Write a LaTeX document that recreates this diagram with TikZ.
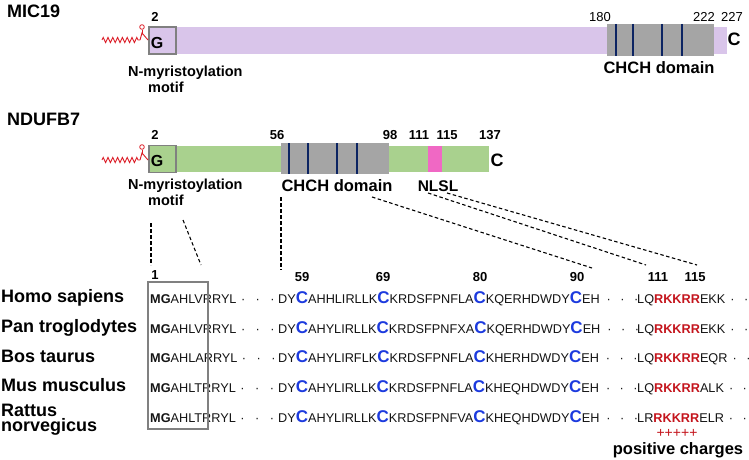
\documentclass[tikz,border=0pt]{standalone}
\usepackage{fontspec}
\setmainfont{Liberation Sans}
\usetikzlibrary{
  positioning,               % Function "of" (e.g. [below=of x])
  decorations.pathmorphing,  % Zigzag of the myristoyl chain
}
\definecolor{micpurple}{RGB}{217,197,234}
\definecolor{ndugreen}{RGB}{169,209,142}
\definecolor{chchgray}{RGB}{165,165,165}
\definecolor{cysnavy}{RGB}{12,36,98}
\definecolor{nlspink}{RGB}{240,104,196}
\definecolor{cysblue}{RGB}{28,58,222}
\definecolor{posred}{RGB}{196,20,28}
\definecolor{acylred}{RGB}{220,30,40}
\definecolor{seqtext}{RGB}{20,20,20}
\newcommand{\fs}[1]{\fontsize{#1}{#1}\selectfont}
\newcommand{\cys}{{\fs{17}\bfseries\color{cysblue}C}}
\newcommand{\pos}[1]{{\bfseries\color{posred}#1}}
\newcommand{\gapA}{\hspace{4.5pt}·\hspace{10.5pt}·\hspace{10.5pt}·}
\newcommand{\gapB}{\hspace{7pt}·\hspace{9.5pt}·\hspace{9.5pt}·}
\newcommand{\gapC}{\hspace{5pt}·\hspace{9.5pt}·}
\tikzset{
  x=1pt, y=-1pt,
  semithick,
  title/.style={font=\fs{18}\bfseries, anchor=west, inner sep=0pt},
  num/.style={font=\fs{13}\bfseries, inner sep=0pt},
  thinnum/.style={font=\fs{13}, inner sep=0pt},
  lbl/.style={font=\fs{16.5}\bfseries, inner sep=0pt},
  motif/.style={
    font=\fontsize{14.5}{16}\selectfont\bfseries,
    align=left,
    anchor=north west,
    inner sep=0pt
  },
  gly/.style={font=\fs{16}\bfseries, inner sep=0pt},
  endc/.style={font=\fs{18}\bfseries, inner sep=0pt},
  gbox/.style={
    draw=gray,
    line width=1.5pt,
    minimum width=27pt,
    minimum height=27pt,
    inner sep=0pt
  },
  chch/.style={fill=chchgray},
  cysline/.style={draw=cysnavy, line width=2.2pt},
  acyl/.style={draw=acylred, line width=0.9pt},
  chain/.style={
    acyl,
    decorate,
    decoration={zigzag, segment length=4.8pt, amplitude=2.6pt}
  },
  oxy/.style={
    circle,
    draw=acylred,
    line width=0.8pt,
    minimum size=4.6pt,
    inner sep=0pt
  },
  zoomline/.style={dash pattern=on 3.5pt off 2.5pt, line width=1.1pt},
  species/.style={font=\fs{18}\bfseries, anchor=base west, inner sep=0pt},
  seq/.style={font=\fs{12.7}, text=seqtext, anchor=base west, inner sep=0pt},
  alnbox/.style={draw=gray, line width=2.4pt}
}

\begin{document}
\begin{tikzpicture}
\useasboundingbox (0,0) rectangle (749,460);
% MIC19
\node[title] (mic) at (7,11) {MIC19};
\fill[micpurple] (149,27) rectangle (727,54);
\fill[chch] (607,24) rectangle (714,56);
\foreach \x in {616,633,662,682}
  \draw[cysline] (\x,24) -- (\x,56);
\node[gbox, fill=micpurple] (micbox) at (162.5,40.5) {};
\node[gly] (micgly) at (157,43) {G};
\draw[chain] (102,40) -- (140,40);
\coordinate (micco) at (142,33);
\node[oxy] (micoxy) at (142,27) {};
\draw[acyl] (140,40) -- (micco) -- (148,40);
\draw[acyl] (micco) -- (micoxy);
\node[num]     (mic2)   at (155,17) {2};
\node[thinnum] (mic180) at (600,17) {180};
\node[thinnum] (mic222) at (704,17) {222};
\node[thinnum] (mic227) at (732,17) {227};
\node[endc]    (micC)   at (734,39) {C};
\node[lbl] (micchch) at (659,68) {CHCH domain};
\node[motif] (micmotif) at (128,66) {N-myristoylation\\\hspace*{20pt}motif};

% NDUFB7
\node[title] (ndu) at (7,119) {NDUFB7};
\fill[ndugreen] (149,146) rectangle (489,172);
\fill[chch] (281,143) rectangle (389,174);
\foreach \x in {289,308,337,357}
  \draw[cysline] (\x,143) -- (\x,174);
\fill[nlspink] (428,146) rectangle (442,172);
\node[gbox, fill=ndugreen] (ndubox) at (162.5,159) {};
\node[gly] (ndugly) at (157,161) {G};
\draw[chain] (102,160) -- (140,160);
\coordinate (nduco) at (142,153);
\node[oxy] (nduoxy) at (142,147) {};
\draw[acyl] (140,160) -- (nduco) -- (148,160);
\draw[acyl] (nduco) -- (nduoxy);
\node[num] (ndu2)   at (155,135) {2};
\node[num] (ndu56)  at (277,135) {56};
\node[num] (ndu98)  at (390,135) {98};
\node[num] (ndu111) at (419,135) {111};
\node[num] (ndu115) at (447,135) {115};
\node[num] (ndu137) at (490,135) {137};
\node[endc] (nduC) at (497,160) {C};
\node[lbl] (nduchch) at (337,186) {CHCH domain};
\node[font=\fs{15.5}\bfseries, inner sep=0pt] (nlsl) at (438,186) {NLSL};
\node[motif] (ndumotif) at (128,179) {N-myristoylation\\\hspace*{20pt}motif};

% zoom lines
\coordinate (z1a) at (151,223); \coordinate (z1b) at (151,265);
\coordinate (z2a) at (183,220); \coordinate (z2b) at (201,265);
\coordinate (z3a) at (281,197); \coordinate (z3b) at (281,270);
\coordinate (z4a) at (372,197); \coordinate (z4b) at (592,268);
\coordinate (z5a) at (428,193); \coordinate (z5b) at (646,265);
\coordinate (z6a) at (447,193); \coordinate (z6b) at (697,265);
\path[zoomline]
  (z1a) edge (z1b)
  (z2a) edge (z2b)
  (z3a) edge (z3b)
  (z4a) edge (z4b)
  (z5a) edge (z5b)
  (z6a) edge (z6b);

% alignment
\node[num] (p1)   at (155,275) {1};
\node[num] (p59)  at (302,277) {59};
\node[num] (p69)  at (383,277) {69};
\node[num] (p80)  at (480,277) {80};
\node[num] (p90)  at (577,277) {90};
\node[num] (p111) at (658,277) {111};
\node[num] (p115) at (695,277) {115};
\node[species] (homo) at (1,302) {Homo sapiens};
\node[species] (pan)  at (1,332) {Pan troglodytes};
\node[species] (bos)  at (1,362) {Bos taurus};
\node[species] (mus)  at (1,391) {Mus musculus};
\node[species] (rat)  at (1,416) {Rattus};
\node[species] (norv) at (1,431) {norvegicus};
\foreach \n/\yy/\sa/\sb/\sc/\sd in {
  homo/303/AHLV/{AHHLIRLLK\cys KRDSFPNFLA\cys KQERHDWDY}/LQ/EKK,
  pan/333/AHLV/{AHYLIRLLK\cys KRDSFPNFXA\cys KQERHDWDY}/LQ/EKK,
  bos/362.5/AHLA/{AHYLIRFLK\cys KRDSFPNFLA\cys KHERHDWDY}/LQ/EQR,
  mus/392/AHLT/{AHYLIRLLK\cys KRDSFPNFLA\cys KHEQHDWDY}/LQ/ALK,
  rat/422/AHLT/{AHYLIRLLK\cys KRDSFPNFVA\cys KHEQHDWDY}/LR/ELR}{
  \node[seq] (\n a) at (150,\yy) {\textbf{MG}\sa RRYL\gapA};
  \node[seq] (\n b) at (278,\yy) {DY\cys\sb\cys EH\gapB};
  \node[seq] (\n c) at (637,\yy) {\sc\pos{RKKRR}\sd\gapC};
}
\draw[alnbox] (148,282) rectangle (208,429);
\node[font=\fs{14}, text=posred, inner sep=0pt] (plus) at (677,433) {+++++};
\node[lbl] (poslbl) at (678,450) {positive charges};
\end{tikzpicture}
\end{document}
